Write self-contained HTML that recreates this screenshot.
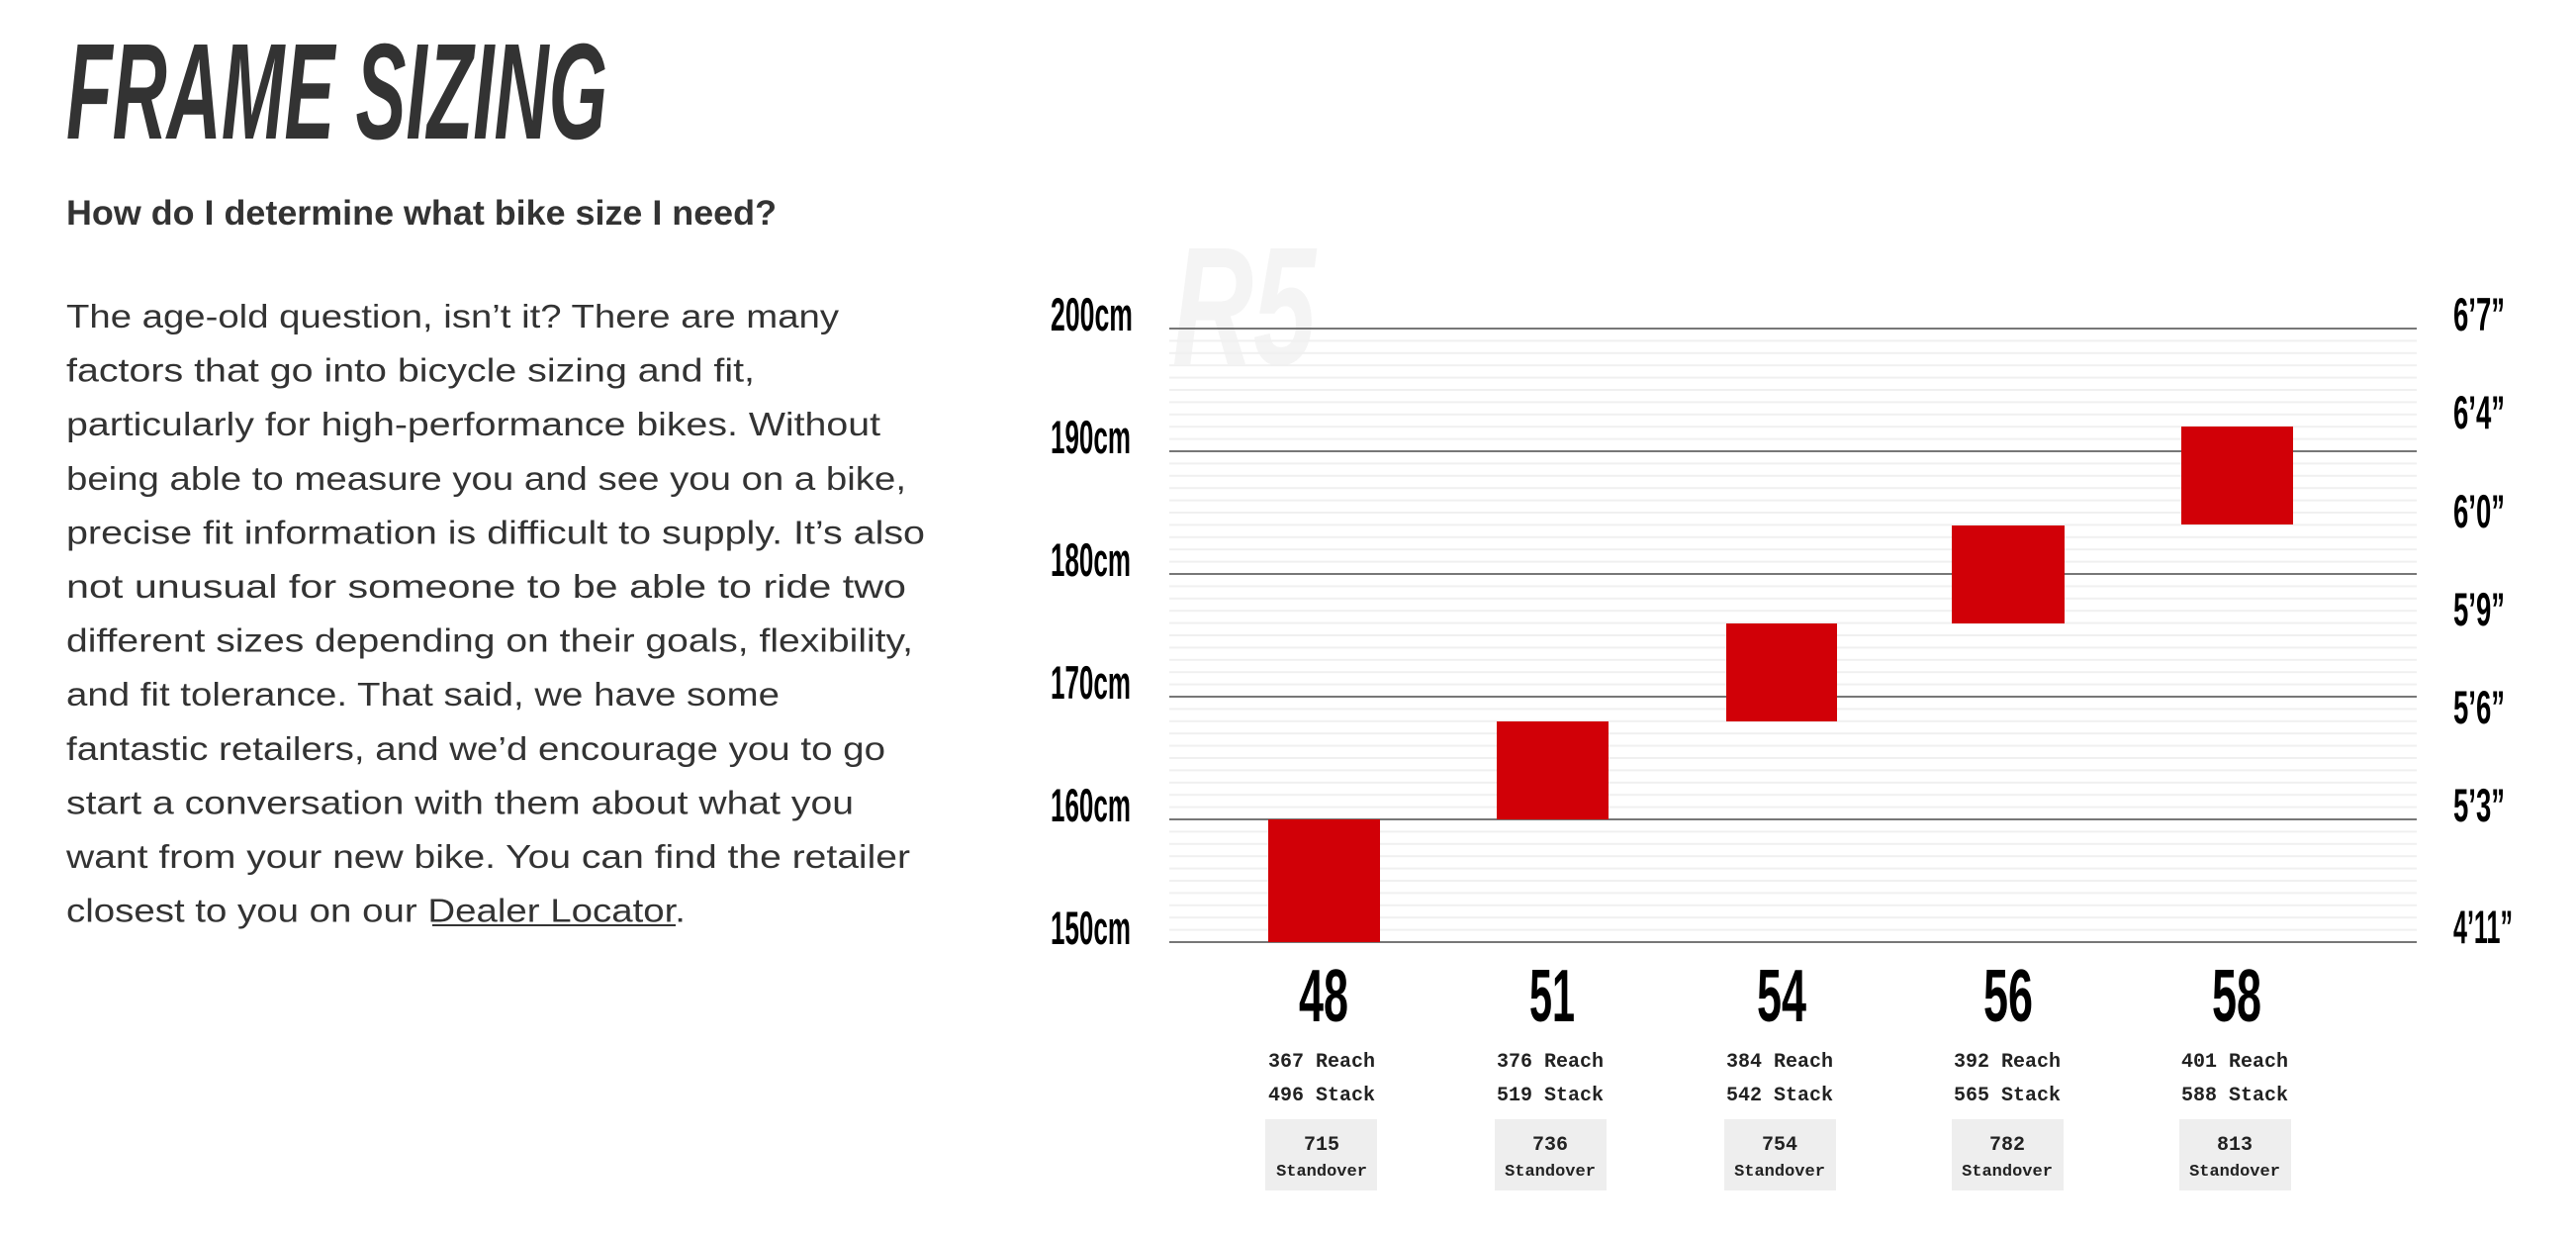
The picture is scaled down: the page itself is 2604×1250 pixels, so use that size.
<!DOCTYPE html>
<html><head><meta charset="utf-8"><style>
html,body{margin:0;padding:0;background:#fff;}
svg{display:block;}
</style></head><body>
<svg width="2604" height="1250" viewBox="0 0 2604 1250" xmlns="http://www.w3.org/2000/svg">
<g font-family="Liberation Sans, sans-serif" fill="#333">
<text x="67" y="140" font-size="138" font-weight="bold" font-style="italic" textLength="547" lengthAdjust="spacingAndGlyphs">FRAME SIZING</text>
<text x="67" y="227" font-size="35" font-weight="bold" textLength="718" lengthAdjust="spacingAndGlyphs">How do I determine what bike size I need?</text>
<g font-size="33">
<text x="67" y="331" textLength="781" lengthAdjust="spacingAndGlyphs">The age-old question, isn’t it? There are many</text>
<text x="67" y="385.6" textLength="696" lengthAdjust="spacingAndGlyphs">factors that go into bicycle sizing and fit,</text>
<text x="67" y="440.2" textLength="823" lengthAdjust="spacingAndGlyphs">particularly for high-performance bikes. Without</text>
<text x="67" y="494.8" textLength="849" lengthAdjust="spacingAndGlyphs">being able to measure you and see you on a bike,</text>
<text x="67" y="549.4" textLength="868" lengthAdjust="spacingAndGlyphs">precise fit information is difficult to supply. It’s also</text>
<text x="67" y="604" textLength="849" lengthAdjust="spacingAndGlyphs">not unusual for someone to be able to ride two</text>
<text x="67" y="658.6" textLength="856" lengthAdjust="spacingAndGlyphs">different sizes depending on their goals, flexibility,</text>
<text x="67" y="713.2" textLength="721" lengthAdjust="spacingAndGlyphs">and fit tolerance. That said, we have some</text>
<text x="67" y="767.8" textLength="828" lengthAdjust="spacingAndGlyphs">fantastic retailers, and we’d encourage you to go</text>
<text x="67" y="822.4" textLength="796" lengthAdjust="spacingAndGlyphs">start a conversation with them about what you</text>
<text x="67" y="877" textLength="853" lengthAdjust="spacingAndGlyphs">want from your new bike. You can find the retailer</text>
<text x="67" y="931.6" textLength="626" lengthAdjust="spacingAndGlyphs">closest to you on our Dealer Locator.</text>
</g>
<rect x="437" y="934" width="246" height="2" fill="#333"/>
</g>

<text x="1185" y="368" font-family="Liberation Sans, sans-serif" font-size="170" font-weight="bold" font-style="italic" fill="#f4f4f4" textLength="145" lengthAdjust="spacingAndGlyphs">R5</text>

<g fill="#f0f0f0">
<rect x="1182" y="343.4" width="1261" height="2"/><rect x="1182" y="355.8" width="1261" height="2"/><rect x="1182" y="368.2" width="1261" height="2"/><rect x="1182" y="380.6" width="1261" height="2"/><rect x="1182" y="393" width="1261" height="2"/><rect x="1182" y="405.4" width="1261" height="2"/><rect x="1182" y="417.8" width="1261" height="2"/><rect x="1182" y="430.2" width="1261" height="2"/><rect x="1182" y="442.6" width="1261" height="2"/>
<rect x="1182" y="467.4" width="1261" height="2"/><rect x="1182" y="479.8" width="1261" height="2"/><rect x="1182" y="492.2" width="1261" height="2"/><rect x="1182" y="504.6" width="1261" height="2"/><rect x="1182" y="517" width="1261" height="2"/><rect x="1182" y="529.4" width="1261" height="2"/><rect x="1182" y="541.8" width="1261" height="2"/><rect x="1182" y="554.2" width="1261" height="2"/><rect x="1182" y="566.6" width="1261" height="2"/>
<rect x="1182" y="591.4" width="1261" height="2"/><rect x="1182" y="603.8" width="1261" height="2"/><rect x="1182" y="616.2" width="1261" height="2"/><rect x="1182" y="628.6" width="1261" height="2"/><rect x="1182" y="641" width="1261" height="2"/><rect x="1182" y="653.4" width="1261" height="2"/><rect x="1182" y="665.8" width="1261" height="2"/><rect x="1182" y="678.2" width="1261" height="2"/><rect x="1182" y="690.6" width="1261" height="2"/>
<rect x="1182" y="715.4" width="1261" height="2"/><rect x="1182" y="727.8" width="1261" height="2"/><rect x="1182" y="740.2" width="1261" height="2"/><rect x="1182" y="752.6" width="1261" height="2"/><rect x="1182" y="765" width="1261" height="2"/><rect x="1182" y="777.4" width="1261" height="2"/><rect x="1182" y="789.8" width="1261" height="2"/><rect x="1182" y="802.2" width="1261" height="2"/><rect x="1182" y="814.6" width="1261" height="2"/>
<rect x="1182" y="839.4" width="1261" height="2"/><rect x="1182" y="851.8" width="1261" height="2"/><rect x="1182" y="864.2" width="1261" height="2"/><rect x="1182" y="876.6" width="1261" height="2"/><rect x="1182" y="889" width="1261" height="2"/><rect x="1182" y="901.4" width="1261" height="2"/><rect x="1182" y="913.8" width="1261" height="2"/><rect x="1182" y="926.2" width="1261" height="2"/><rect x="1182" y="938.6" width="1261" height="2"/>
</g>
<g fill="#777">
<rect x="1182" y="331" width="1261" height="2"/>
<rect x="1182" y="455" width="1261" height="2"/>
<rect x="1182" y="579" width="1261" height="2"/>
<rect x="1182" y="703" width="1261" height="2"/>
<rect x="1182" y="827" width="1261" height="2"/>
<rect x="1182" y="951" width="1261" height="2"/>
</g>
<g fill="#d10007">
<rect x="1282" y="828" width="113" height="124"/>
<rect x="1513" y="729" width="113" height="99"/>
<rect x="1745" y="630" width="112" height="99"/>
<rect x="1973" y="531" width="114" height="99"/>
<rect x="2205" y="431" width="113" height="99"/>
</g>
<g font-family="Liberation Sans, sans-serif" font-weight="bold" fill="#000" font-size="47">
<text x="1062" y="334" textLength="83" lengthAdjust="spacingAndGlyphs">200cm</text>
<text x="1062" y="458" textLength="81" lengthAdjust="spacingAndGlyphs">190cm</text>
<text x="1062" y="582" textLength="81" lengthAdjust="spacingAndGlyphs">180cm</text>
<text x="1062" y="706" textLength="81" lengthAdjust="spacingAndGlyphs">170cm</text>
<text x="1062" y="830" textLength="81" lengthAdjust="spacingAndGlyphs">160cm</text>
<text x="1062" y="954" textLength="81" lengthAdjust="spacingAndGlyphs">150cm</text>
<text x="2480" y="334" textLength="52" lengthAdjust="spacingAndGlyphs">6’7”</text>
<text x="2480" y="433" textLength="52" lengthAdjust="spacingAndGlyphs">6’4”</text>
<text x="2480" y="533" textLength="52" lengthAdjust="spacingAndGlyphs">6’0”</text>
<text x="2480" y="632" textLength="52" lengthAdjust="spacingAndGlyphs">5’9”</text>
<text x="2480" y="731" textLength="52" lengthAdjust="spacingAndGlyphs">5’6”</text>
<text x="2480" y="830" textLength="52" lengthAdjust="spacingAndGlyphs">5’3”</text>
<text x="2480" y="953" textLength="60" lengthAdjust="spacingAndGlyphs">4’11”</text>
</g>
<g font-family="Liberation Sans, sans-serif" font-weight="bold" fill="#000" font-size="75">
<text x="1313" y="1032" textLength="50" lengthAdjust="spacingAndGlyphs">48</text>
<text x="1546" y="1032" textLength="46" lengthAdjust="spacingAndGlyphs">51</text>
<text x="1776" y="1032" textLength="50" lengthAdjust="spacingAndGlyphs">54</text>
<text x="2005" y="1032" textLength="50" lengthAdjust="spacingAndGlyphs">56</text>
<text x="2236" y="1032" textLength="50" lengthAdjust="spacingAndGlyphs">58</text>
</g>
<g fill="#eee">
<rect x="1279" y="1131" width="113" height="72"/>
<rect x="1511" y="1131" width="113" height="72"/>
<rect x="1743" y="1131" width="113" height="72"/>
<rect x="1973" y="1131" width="113" height="72"/>
<rect x="2203" y="1131" width="113" height="72"/>
</g>
<g text-anchor="middle" font-family="Liberation Mono, monospace" font-weight="bold" fill="#222" font-size="20">
<text x="1336" y="1078">367 Reach</text><text x="1336" y="1112">496 Stack</text>
<text x="1567" y="1078">376 Reach</text><text x="1567" y="1112">519 Stack</text>
<text x="1799" y="1078">384 Reach</text><text x="1799" y="1112">542 Stack</text>
<text x="2029" y="1078">392 Reach</text><text x="2029" y="1112">565 Stack</text>
<text x="2259" y="1078">401 Reach</text><text x="2259" y="1112">588 Stack</text>
<g font-size="20"><text x="1336" y="1162">715</text><text x="1567" y="1162">736</text><text x="1799" y="1162">754</text><text x="2029" y="1162">782</text><text x="2259" y="1162">813</text></g>
<g font-size="17"><text x="1336" y="1188">Standover</text><text x="1567" y="1188">Standover</text><text x="1799" y="1188">Standover</text><text x="2029" y="1188">Standover</text><text x="2259" y="1188">Standover</text></g>
</g>
</svg>
</body></html>
